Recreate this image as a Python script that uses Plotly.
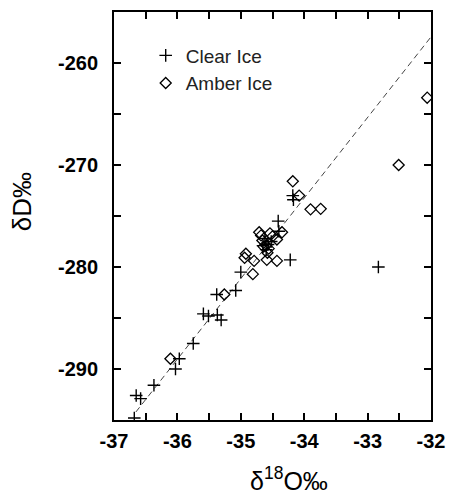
import plotly.graph_objects as go
import numpy as np

# Clear Ice (+)
clear_o18 = [-34.18, -34.17, -34.41, -34.40, -34.22, -32.83, -35.00, -35.08, -35.38,
             -35.59, -35.51, -35.37, -35.31, -35.75, -35.97, -36.03, -36.37, -36.65,
             -36.58, -36.68, -34.62, -34.57, -34.60, -34.52, -34.65]
clear_dD = [-273.0, -273.4, -275.5, -276.5, -279.3, -280.0, -280.5, -282.3, -282.7,
            -284.6, -284.8, -284.7, -285.2, -287.5, -289.0, -290.0, -291.6, -292.6,
            -292.9, -294.8, -277.2, -277.8, -278.3, -277.5, -277.9]

# Amber Ice (diamonds)
amber_o18 = [-32.06, -32.51, -34.18, -34.08, -33.90, -33.74, -34.71, -34.54, -34.35,
             -34.66, -34.43, -34.58, -34.92, -34.94, -34.79, -34.59, -34.43, -34.81,
             -35.26, -36.11, -34.68, -34.60, -34.56, -34.64, -34.50]
amber_dD = [-263.4, -270.0, -271.6, -273.0, -274.35, -274.3, -276.6, -276.7, -276.6,
            -277.4, -277.3, -278.6, -278.7, -279.1, -279.4, -279.3, -279.4, -280.7,
            -282.7, -289.0, -276.9, -277.9, -278.2, -278.0, -277.0]

# regression line parameters
line_slope = 7.9
line_intercept = -4.64
line_x_range = [-36.655, -32.0]

x_range = [-37, -32]
y_range = [-295, -255]

x_tickvals = [-37, -36, -35, -34, -33, -32]
x_ticktext = ["-37", "-36", "-35", "-34", "-33", "-32"]
y_tickvals = [-290, -280, -270, -260]
y_ticktext = ["-290", "-280", "-270", "-260"]

FONT = "Liberation Sans, Arial, sans-serif"

fig = go.Figure()

lx = np.array(line_x_range)
fig.add_trace(go.Scatter(x=lx, y=line_slope * lx + line_intercept, mode="lines",
                         line=dict(color="#444444", width=1, dash="6px,4px"),
                         showlegend=False, hoverinfo="skip"))

fig.add_trace(go.Scatter(x=clear_o18, y=clear_dD, mode="markers", name="Clear Ice",
                         marker=dict(symbol="cross-thin", size=9, color="black",
                                     line=dict(color="black", width=1.4))))
fig.add_trace(go.Scatter(x=amber_o18, y=amber_dD, mode="markers", name="Amber Ice",
                         marker=dict(symbol="diamond-open", size=8.5, color="black",
                                     line=dict(color="black", width=1.3))))

tickfont = dict(family="Liberation Sans", size=20, color="black", weight=700)

fig.update_xaxes(range=x_range, tickvals=x_tickvals,
                 ticktext=["<b>%s</b>" % t for t in x_ticktext],
                 ticks="inside", ticklen=7, tickwidth=1.5,
                 tickcolor="black", showline=True, linewidth=2, linecolor="black",
                 mirror="ticks", showgrid=False, zeroline=False, tickfont=tickfont,
                 ticklabelstandoff=2,
                 minor=dict(dtick=0.5, tick0=-37, ticks="inside", ticklen=7, tickwidth=1.5,
                            tickcolor="black", showgrid=False))
fig.update_yaxes(range=y_range, tickvals=y_tickvals,
                 ticktext=["<b>%s</b>" % t for t in y_ticktext],
                 ticks="inside", ticklen=7, tickwidth=1.5,
                 tickcolor="black", showline=True, linewidth=2, linecolor="black",
                 mirror="ticks", showgrid=False, zeroline=False, tickfont=tickfont,
                 ticklabelstandoff=10,
                 minor=dict(dtick=5, tick0=-260, ticks="inside", ticklen=7, tickwidth=1.5,
                            tickcolor="black", showgrid=False))

fig.add_annotation(text="δD‰", textangle=-90, xref="paper", yref="paper",
                   x=-0.29, y=0.534, showarrow=False, xanchor="center", yanchor="middle",
                   font=dict(family=FONT, size=26, color="black"))
fig.add_annotation(text="δ<sup>18</sup>O‰", xref="paper", yref="paper",
                   x=0.553, y=-0.145, showarrow=False, xanchor="center", yanchor="middle",
                   font=dict(family=FONT, size=25, color="black"))

fig.update_layout(
    width=455, height=494,
    margin=dict(l=114, r=19, t=10, b=74),
    plot_bgcolor="white", paper_bgcolor="white",
    legend=dict(x=0.10, y=0.94, xanchor="left", yanchor="top",
                bgcolor="rgba(0,0,0,0)", borderwidth=0,
                font=dict(family=FONT, size=19, color="#222222"),
                tracegroupgap=0, itemwidth=30),
)

fig.write_html("out.html")
